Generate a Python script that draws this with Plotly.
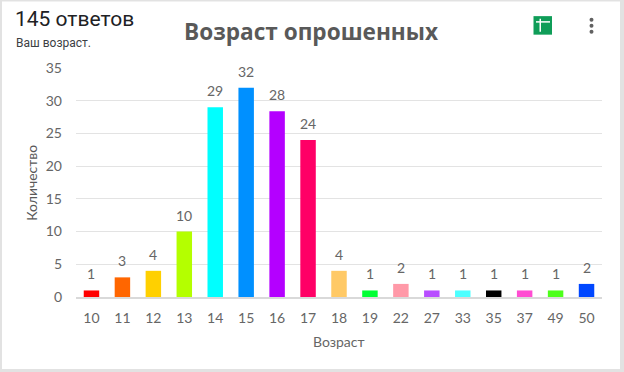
import plotly.graph_objects as go

W, H = 624, 372
ages = ["10","11","12","13","14","15","16","17","18","19","22","27","33","35","37","49","50"]
heights = [1,3,4,10,29,32,28.4,24,4,1,2,1,1,1,1,1,2]
labels = [1,3,4,10,29,32,28,24,4,1,2,1,1,1,1,1,2]
colors = ["#ff0000","#ff6600","#ffd000","#b4ff00","#00ffff","#0090ff","#b400ff","#ff0066",
          "#ffc966","#00ff33","#ff99a8","#b84dff","#4dffff","#000000","#ff4dd2","#4dff1a","#0047ff"]
yticks = [0,5,10,15,20,25,30,35]

L, R, T, B = 76, 602, 68.3, 297

def px(x): return (x - L) / (R - L)
def py(y): return (B - y) / (B - T)

TXT = "#666666"
fig = go.Figure(go.Bar(x=ages, y=heights, marker=dict(color=colors, line_width=0), width=0.5,
                       hoverinfo="x+y"))

ann = [dict(x=i, y=h, text=str(l), xref="x", yref="y", showarrow=False, yanchor="bottom",
            yshift=6, font=dict(family="Lato", size=14, color=TXT))
       for i, (h, l) in enumerate(zip(heights, labels))]

def txt(x, y, s, size, family, color, bold=False, xanchor="left"):
    return dict(x=px(x), y=py(y), xref="paper", yref="paper", text=f"<b>{s}</b>" if bold else s,
                showarrow=False, xanchor=xanchor, yanchor="middle", xshift=0,
                font=dict(family=family, size=size, color=color))

ann += [
    txt(13, 19.5, "145 ответов", 21, "Roboto", "#202124"),
    txt(14, 43, "Ваш возраст.", 12, "Roboto", "#3c4043"),
    txt(311, 32, "Возраст опрошенных", 22.6, "Open Sans", "#595959", bold=True, xanchor="center"),
    txt(32, 183, "Количество", 14, "Lato", "#595959", xanchor="center"),
    txt(339, 341, "Возраст", 14, "Lato", TXT, xanchor="center"),
]
ann[-2]["textangle"] = -90

def rect(x0, y0, x1, y1, color, layer="above"):
    return dict(type="rect", xref="paper", yref="paper", x0=px(x0), x1=px(x1), y0=py(y0), y1=py(y1),
                fillcolor=color, line_width=0, layer=layer)

def dot(cx, cy, r, color):
    return dict(type="circle", xref="paper", yref="paper", x0=px(cx-r), x1=px(cx+r),
                y0=py(cy-r), y1=py(cy+r), fillcolor=color, line_width=0)

shapes = [
    rect(2, 2, 620, 369, "#ffffff", "below"),
    rect(533.5, 16.5, 552, 35, "#0f9d58"),
    rect(536, 21.5, 550, 23, "#ffffff"),
    rect(539.5, 19, 541, 32, "#ffffff"),
    dot(591.5, 20, 2, "#616161"), dot(591.5, 26, 2, "#616161"), dot(591.5, 32, 2, "#616161"),
]

fig.update_layout(
    width=W, height=H, paper_bgcolor="#e2e2e2", plot_bgcolor="rgba(0,0,0,0)",
    margin=dict(l=L, r=W-R, t=T, b=H-B, pad=0, autoexpand=False),
    autosize=False, showlegend=False, bargap=0.5,
    annotations=ann, shapes=shapes,
    xaxis=dict(type="category", categoryorder="array", categoryarray=ages, showgrid=False,
               range=[-0.5, 16.5], tickmode="array", tickvals=ages, ticktext=ages,
               ticks="", showline=True, linecolor="#d9d9d9", linewidth=1.5,
               tickfont=dict(family="Lato", size=14, color=TXT), ticklabelstandoff=7),
    yaxis=dict(range=[0, 35], tickvals=yticks, showgrid=True, gridcolor="#e3e3e3", gridwidth=1,
               zeroline=False, ticks="", tickfont=dict(family="Lato", size=14, color=TXT),
               ticklabelstandoff=13),
)
fig.write_html("out.html", config={"displayModeBar": False},
               post_script="document.body.style.margin='0';document.documentElement.style.overflow='hidden';")
